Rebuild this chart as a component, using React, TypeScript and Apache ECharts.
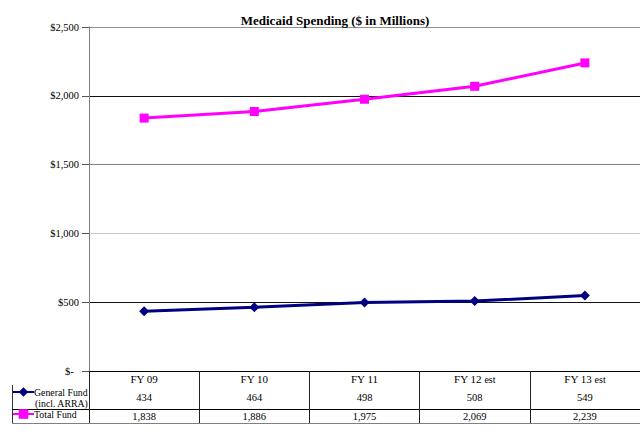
import React, { useEffect, useRef } from "react";
import * as echarts from "echarts";

const categories = ["FY 09", "FY 10", "FY 11", "FY 12 est", "FY 13 est"];
const generalFund = [434, 464, 498, 508, 549];
const totalFund = [1838, 1886, 1975, 2069, 2239];
const yTicks = { min: 0, max: 2500, interval: 500 };

const fmt = (v: number) => v.toLocaleString("en-US");

export default function App() {
  const ref = useRef<HTMLDivElement>(null);
  useEffect(() => {
    if (!ref.current) return;
    const chart = echarts.init(ref.current, null, { renderer: "svg" });
    const font = "Liberation Serif";
    chart.setOption({
      animation: false,
      textStyle: { fontFamily: font },
      title: {
        text: "Medicaid Spending ($ in Millions)",
        left: 330,
        top: 9,
        textAlign: "center",
        textStyle: { fontFamily: font, fontSize: 13, fontWeight: "bold", color: "#000" },
      },
      legend: {
        orient: "vertical",
        left: 12,
        top: 387,
        padding: 0,
        itemGap: 12,
        itemWidth: 21,
        itemHeight: 12,
        data: ["General Fund", "Total Fund"],
        textStyle: { fontFamily: font, fontSize: 9.8, color: "#000", padding: [0, 0, 0, -5] },
      },
      grid: { left: 89, right: 0, top: 27, bottom: 64 },
      xAxis: {
        type: "category",
        data: categories,
        boundaryGap: true,
        axisLine: { lineStyle: { color: "#000", width: 1 } },
        axisTick: { show: true, length: 52, lineStyle: { color: "#222" } },
        axisLabel: {
          margin: 0,
          interval: 0,
          fontFamily: font,
          color: "#000",
          formatter: (value: string, idx: number) => {
            const parts = value.split(" est");
            const head = parts.length > 1 ? `{a|${parts[0]} }{s|est}` : `{a|${value}}`;
            return `${head}\n{b|${fmt(generalFund[idx])}}\n{c|${fmt(totalFund[idx])}}`;
          },
          rich: {
            a: { fontSize: 11, lineHeight: 16, fontFamily: font, color: "#000" },
            s: { fontSize: 10, lineHeight: 16, fontFamily: font, color: "#000" },
            b: { fontSize: 10.5, lineHeight: 20, fontFamily: font, color: "#000" },
            c: { fontSize: 10.5, lineHeight: 18, fontFamily: font, color: "#000" },
          },
        },
      },
      yAxis: {
        type: "value",
        min: yTicks.min,
        max: yTicks.max,
        interval: yTicks.interval,
        axisLine: { show: true, lineStyle: { color: "#808080" } },
        axisTick: { show: true, length: 7, lineStyle: { color: "#555" } },
        axisLabel: {
          margin: 10,
          fontFamily: font,
          fontSize: 10.5,
          color: "#000",
          formatter: (v: number) => (v === 0 ? "$-  " : "$" + fmt(v)),
        },
        splitLine: {
          show: true,
          lineStyle: {
            color: ["#000", "#111", "#c8c8c8", "#808080", "#111", "#909090"],
            width: 1,
          },
        },
      },
      series: [
        {
          name: "General Fund",
          type: "line",
          data: generalFund,
          symbol: "diamond",
          symbolSize: 10,
          lineStyle: { color: "#000080", width: 3 },
          itemStyle: { color: "#000080" },
        },
        {
          name: "Total Fund",
          type: "line",
          data: totalFund,
          symbol: "rect",
          symbolSize: 9,
          lineStyle: { color: "#ff00ff", width: 3 },
          itemStyle: { color: "#ff00ff" },
        },
      ],
      graphic: [
        { type: "line", shape: { x1: 12.5, y1: 385, x2: 12.5, y2: 423.5 }, style: { stroke: "#333", lineWidth: 1 } },
        { type: "line", shape: { x1: 12, y1: 409.5, x2: 640, y2: 409.5 }, style: { stroke: "#000", lineWidth: 1 } },
        { type: "line", shape: { x1: 12, y1: 423.5, x2: 640, y2: 423.5 }, style: { stroke: "#808080", lineWidth: 1 } },
        {
          type: "text",
          left: 35,
          top: 398,
          style: { text: "(incl. ARRA)", fontFamily: font, fontSize: 9.8, fill: "#000" },
        },
      ],
    });
    return () => chart.dispose();
  }, []);
  return <div ref={ref} style={{ width: 640, height: 435, position: "absolute", left: 0, top: 0 }} />;
}
